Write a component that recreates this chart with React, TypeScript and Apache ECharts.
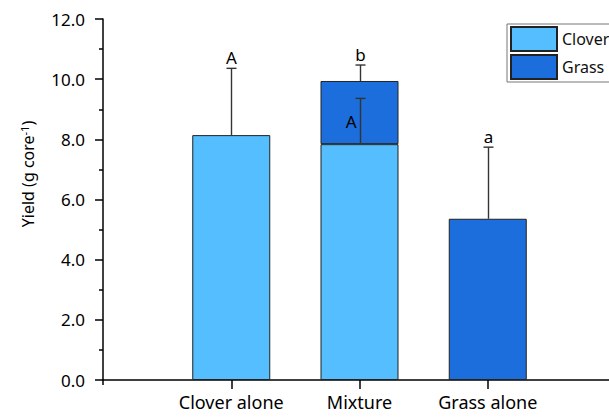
import React, { useEffect, useRef } from "react";
import * as echarts from "echarts";

// Category slots: the empty ends pad the axis on both sides
const categories = ["", "Clover alone", "Mixture", "Grass alone", ""];
const cloverYield: (number | string)[] = ["-", 8.14, 7.84, "-", "-"];
const grassYield: (number | string)[] = ["-", "-", 2.1, 5.36, "-"];

// Error bars: category index, which part of the stack they sit on, upper end, letter
const errorCategory = [1, 2, 2, 3];
const errorPart = ["clover", "total", "clover", "total"];
const errorUpper = [10.36, 10.47, 9.36, 7.74];
const errorLetter = ["A", "b", "A", "a"];

const yTicks = [0, 2, 4, 6, 8, 10, 12];

const FONT = "Noto Sans";
const LIGHT = "#55BEFF";
const DARK = "#1C6EDC";

const num = (v: number | string) => (typeof v === "number" ? v : 0);

export default function App() {
  const ref = useRef<HTMLDivElement>(null);

  useEffect(() => {
    if (!ref.current) return;
    const chart = echarts.init(ref.current, undefined, { renderer: "svg" });

    const errorData = errorCategory.map((c, i) => {
      const clover = num(cloverYield[c]);
      const total = clover + num(grassYield[c]);
      const low = errorPart[i] === "clover" ? clover : total;
      const inside = errorUpper[i] < total ? 1 : 0;
      return [c, low, errorUpper[i], inside, i];
    });

    chart.setOption({
      animation: false,
      grid: { left: 103, top: 19, bottom: 37, right: 4 },
      legend: {
        orient: "vertical",
        left: 507,
        top: 24,
        itemWidth: 46,
        itemHeight: 24,
        itemGap: 2,
        padding: [2, 10, 2, 3],
        borderColor: "#777",
        borderWidth: 1,
        icon: "rect",
        data: ["Clover", "Grass"],
        textStyle: { fontSize: 16, fontFamily: FONT, color: "#111" },
      },
      xAxis: {
        type: "category",
        data: categories,
        boundaryGap: false,
        axisLine: { lineStyle: { color: "#000", width: 1.5 } },
        axisTick: {
          interval: (idx: number) => idx >= 1 && idx <= 3,
          length: 9,
          lineStyle: { color: "#000", width: 1.5 },
        },
        axisLabel: {
          interval: 0,
          margin: 13,
          fontSize: 18,
          fontFamily: FONT,
          color: "#000",
        },
        splitLine: { show: false },
      },
      yAxis: {
        type: "value",
        min: yTicks[0],
        max: yTicks[yTicks.length - 1],
        interval: yTicks[1] - yTicks[0],
        axisLine: { show: true, lineStyle: { color: "#000", width: 1.5 } },
        axisTick: { show: true, length: 8, lineStyle: { color: "#000", width: 1.5 } },
        minorTick: { show: true, splitNumber: 2, length: 4, lineStyle: { color: "#000", width: 1.5 } },
        axisLabel: {
          margin: 18,
          fontSize: 17,
          fontFamily: FONT,
          color: "#000",
          formatter: (v: number) => v.toFixed(1),
        },
        splitLine: { show: false },
      },
      graphic: [
        {
          type: "text",
          x: 28,
          y: 174,
          rotation: Math.PI / 2,
          style: {
            text: "Yield (g core{sup|-1})",
            align: "center",
            verticalAlign: "middle",
            fontSize: 16,
            fontFamily: FONT,
            fill: "#000",
            rich: {
              sup: { fontSize: 11, fontFamily: FONT, fill: "#000", verticalAlign: "top", padding: [0, 0, 8, 0] },
            },
          },
        },
        // short stub of the vertical axis below the origin
        {
          type: "line",
          shape: { x1: 103, y1: 380, x2: 103, y2: 385 },
          style: { stroke: "#000", lineWidth: 1.5 },
        },
      ],
      series: [
        {
          name: "Clover",
          type: "bar",
          stack: "total",
          barWidth: 78,
          data: cloverYield,
          itemStyle: { color: LIGHT, borderColor: "#222", borderWidth: 1 },
        },
        {
          name: "Grass",
          type: "bar",
          stack: "total",
          barWidth: 78,
          data: grassYield,
          itemStyle: { color: DARK, borderColor: "#222", borderWidth: 1 },
        },
        {
          type: "custom",
          z: 5,
          data: errorData,
          renderItem: (_params: any, api: any) => {
            const c = api.value(0);
            const lowPt = api.coord([c, api.value(1)]);
            const highPt = api.coord([c, api.value(2)]);
            const inside = api.value(3) === 1;
            const letter = errorLetter[api.value(4)];
            const x = Math.round(lowPt[0]) + 0.5;
            const stroke = { stroke: "#333", lineWidth: 1.4 };
            const text = inside
              ? {
                  type: "text",
                  style: {
                    text: letter,
                    x: x - 4,
                    y: (lowPt[1] + highPt[1]) / 2,
                    align: "right",
                    verticalAlign: "middle",
                    fontSize: 17,
                    fontFamily: FONT,
                    fill: "#000",
                  },
                }
              : {
                  type: "text",
                  style: {
                    text: letter,
                    x,
                    y: highPt[1] - 2,
                    align: "center",
                    verticalAlign: "bottom",
                    fontSize: 17,
                    fontFamily: FONT,
                    fill: "#000",
                  },
                };
            return {
              type: "group",
              children: [
                { type: "line", shape: { x1: x, y1: lowPt[1], x2: x, y2: highPt[1] }, style: stroke },
                { type: "line", shape: { x1: x - 5, y1: highPt[1], x2: x + 5, y2: highPt[1] }, style: stroke },
                text,
              ],
            };
          },
        },
      ],
    });

    return () => chart.dispose();
  }, []);

  return (
    <div style={{ position: "fixed", left: 0, top: 0, width: 609, height: 417, overflow: "hidden", background: "#fff" }}>
      <div ref={ref} style={{ width: 620, height: 417 }} />
    </div>
  );
}
